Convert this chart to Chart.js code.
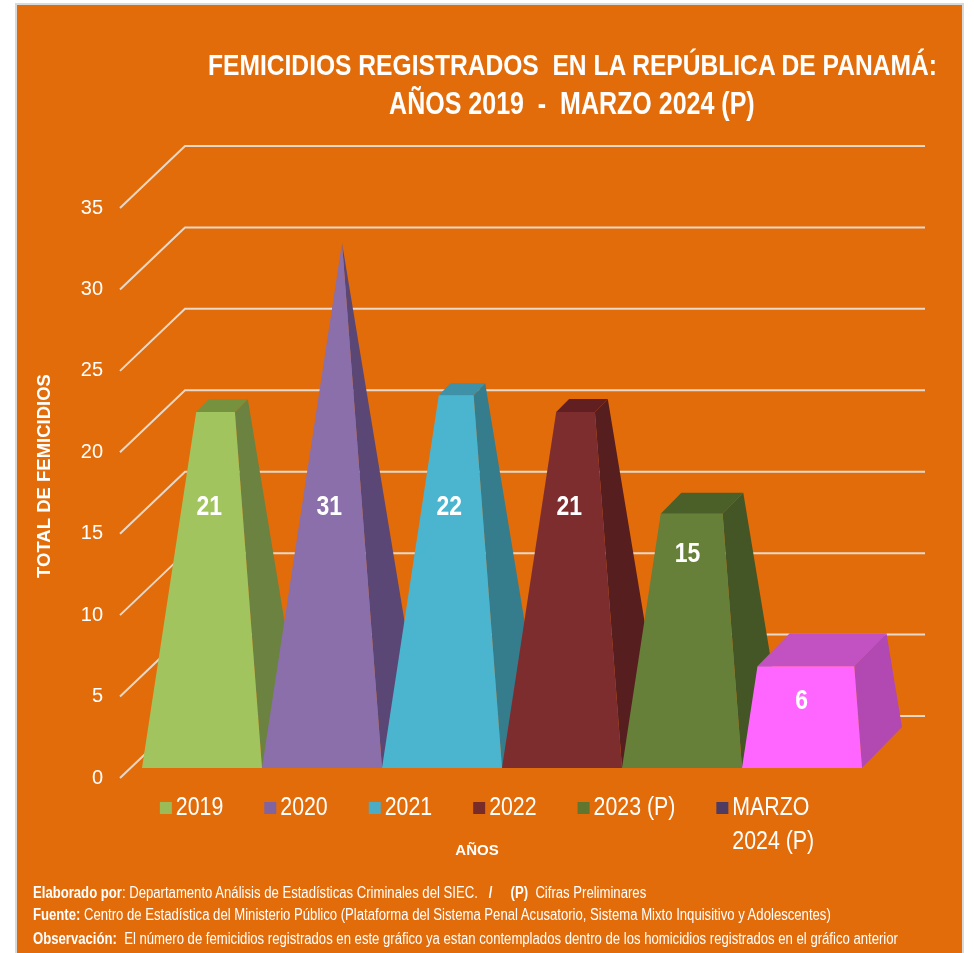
<!DOCTYPE html>
<html lang="es">
<head>
    <meta charset="UTF-8">
    <title>Femicidios registrados en la República de Panamá</title>
    <script src="https://cdn.jsdelivr.net/npm/chart.js"></script>
    <style>
        body {
            margin: 0;
            padding: 0;
            background: #fff;
            width: 974px;
            height: 953px;
            overflow: hidden;
            position: relative;
            font-family: 'Liberation Sans', Arial, sans-serif;
        }
        /* orange card behind the chart */
        #panel {
            position: absolute;
            left: 15px;
            top: 3px;
            width: 945px;
            height: 960px;
            background: #E36C0A;
            border: 2px solid #D9D9D9;
        }
        #femChart {
            position: absolute;
            left: 0;
            top: 0;
        }
        /* no narrow font installed, so squeeze Liberation Sans like Arial Narrow */
        .titulo {
            position: absolute;
            left: 72px;
            width: 1000px;
            text-align: center;
            color: #fff;
            font: bold 30px 'Liberation Sans', Arial, sans-serif;
            line-height: 38px;
            white-space: pre;
        }
        .titulo span {
            display: inline-block;
            transform: scaleX(0.82);
            transform-origin: center;
        }
        .nota {
            position: absolute;
            left: 33px;
            color: #fff;
            font: 16px 'Liberation Sans', Arial, sans-serif;
            line-height: 18px;
            white-space: pre;
            transform: scaleX(0.82);
            transform-origin: left;
        }
    </style>
</head>
<body>
    <div id="panel"></div>
    <canvas id="femChart" width="974" height="953"></canvas>

    <div class="titulo" style="top:46px"><span>FEMICIDIOS REGISTRADOS  EN LA REPÚBLICA DE PANAMÁ:</span></div>
    <div class="titulo" style="top:84px;font-size:30.5px"><span>AÑOS 2019  -  MARZO 2024 (P)</span></div>

    <div class="nota" style="top:884px"><b>Elaborado por</b>: Departamento Análisis de Estadísticas Criminales del SIEC.   <b>/     (P)</b>  Cifras Preliminares</div>
    <div class="nota" style="top:906px"><b>Fuente:</b> Centro de Estadística del Ministerio Público (Plataforma del Sistema Penal Acusatorio, Sistema Mixto Inquisitivo y Adolescentes)</div>
    <div class="nota" style="top:930px"><b>Observación:</b>  El número de femicidios registrados en este gráfico ya estan contemplados dentro de los homicidios registrados en el gráfico anterior</div>

    <script>
        // data
        const years = ['2019', '2020', '2021', '2022', '2023 (P)', ['MARZO', '2024 (P)']];
        const femicidios = [21, 31, 22, 21, 15, 6];
        const yTicks = [0, 5, 10, 15, 20, 25, 30, 35];

        // colours of the 3d shapes
        const frontColors = ['#A2C45E', '#8A6FAB', '#4BB5CF', '#7E2D2F', '#66803A', '#FF66FF'];
        const sideColors = ['#6C8240', '#5A4776', '#357D8D', '#561E1E', '#445626', '#B249B3'];
        const topColors = ['#77923F', '#6E5890', '#3E91A6', '#621F22', '#4B5F28', '#C252C2'];
        const legendColors = ['#9BBB59', '#8064A2', '#4BACC6', '#772C2A', '#5F7530', '#4D3B62'];

        const sans = "'Liberation Sans', Arial, sans-serif";
        const SQUEEZE = 0.82;             // Arial -> Arial Narrow
        const WALL = { x: 65, y: -62 };   // depth of the floor / back wall
        const BASE = { x: 40, y: -41 };   // depth of each pyramid base
        const LIFT = 10;                  // bars stand a bit behind the tick plane

        function narrowText(ctx, text, x, y) {
            ctx.save();
            ctx.translate(x, y);
            ctx.scale(SQUEEZE, 1);
            ctx.fillText(text, 0, 0);
            ctx.restore();
        }

        // draws the back wall, the pyramids, the labels and the legend
        const pyramids3d = {
            id: 'pyramids3d',
            beforeDatasetsDraw(chart) {
                const { ctx, chartArea, scales: { y } } = chart;
                ctx.save();
                ctx.strokeStyle = 'rgba(232, 222, 212, 0.95)';
                ctx.lineWidth = 2;
                yTicks.forEach(v => {
                    const py = y.getPixelForValue(v);
                    const x0 = chartArea.left - 22;
                    ctx.beginPath();
                    ctx.moveTo(x0, py);
                    ctx.lineTo(x0 + WALL.x, py + WALL.y);
                    ctx.lineTo(chartArea.right + WALL.x - 2, py + WALL.y);
                    ctx.stroke();
                });
                ctx.restore();
            },
            afterDatasetsDraw(chart) {
                const { ctx, scales: { y } } = chart;
                const meta = chart.getDatasetMeta(0);
                const maxVal = Math.max(...femicidios);
                ctx.save();
                meta.data.forEach((el, i) => {
                    const { x, y: top, base, width } = el.getProps(['x', 'y', 'base', 'width'], true);
                    const yb = base - LIFT;
                    const h = base - top;
                    const t = femicidios[i] / maxVal;
                    const s = 1 - t;
                    const x0 = x - width / 2, x1 = x + width / 2;
                    const hw = width / 2 * s;
                    const fy = yb - h + BASE.y * t / 2;
                    const ftL = [x - hw + BASE.x * t / 2, fy];
                    const ftR = [x + hw + BASE.x * t / 2, fy];
                    const btL = [ftL[0] + BASE.x * s, fy + BASE.y * s];
                    const btR = [ftR[0] + BASE.x * s, fy + BASE.y * s];

                    const poly = (pts, color) => {
                        ctx.beginPath();
                        ctx.moveTo(pts[0][0], pts[0][1]);
                        pts.slice(1).forEach(p => ctx.lineTo(p[0], p[1]));
                        ctx.closePath();
                        ctx.fillStyle = color;
                        ctx.fill();
                    };
                    // side, top, then front
                    poly([[x1, yb], [x1 + BASE.x, yb + BASE.y], btR, ftR], sideColors[i]);
                    if (s > 0) poly([ftL, ftR, btR, btL], topColors[i]);
                    poly([[x0, yb], [x1, yb], ftR, ftL], frontColors[i]);

                    // value label
                    const ly = Math.max(y.getPixelForValue(femicidios[i]) + 31, y.getPixelForValue(16)) - LIFT;
                    const lt = (yb - ly) / (h || 1) * t;
                    ctx.fillStyle = '#fff';
                    ctx.font = 'bold 28px ' + sans;
                    ctx.textAlign = 'center';
                    ctx.textBaseline = 'middle';
                    narrowText(ctx, String(femicidios[i]), x + BASE.x * lt / 2 - 3, ly);
                });
                ctx.restore();
            },
            afterDraw(chart) {
                const { ctx } = chart;
                ctx.save();
                // legend, one entry per category
                const box = 12, gap = 4, space = 41, ly = 808, lineH = 34;
                ctx.font = '26px ' + sans;
                const items = years.map((c, i) => {
                    const lines = Array.isArray(c) ? c : [c];
                    const w = Math.max(...lines.map(l => ctx.measureText(l).width)) * SQUEEZE;
                    return { lines, w: box + gap + w, color: legendColors[i] };
                });
                const total = items.reduce((a, it) => a + it.w, 0) + space * (items.length - 1);
                let lx = chart.width / 2 - total / 2;
                ctx.textBaseline = 'middle';
                ctx.textAlign = 'left';
                items.forEach(it => {
                    ctx.fillStyle = it.color;
                    ctx.fillRect(lx, ly - box / 2, box, box);
                    ctx.fillStyle = '#fff';
                    it.lines.forEach((l, k) => narrowText(ctx, l, lx + box + gap, ly + k * lineH));
                    lx += it.w + space;
                });

                // axis titles
                ctx.fillStyle = '#fff';
                ctx.textAlign = 'center';
                ctx.font = 'bold 15px ' + sans;
                ctx.fillText('AÑOS', chart.width / 2 - 10, 851);
                ctx.font = 'bold 18.5px ' + sans;
                ctx.translate(45, 476);
                ctx.rotate(-Math.PI / 2);
                ctx.fillText('TOTAL DE FEMICIDIOS', 0, 0);
                ctx.restore();
            }
        };

        const ctx = document.getElementById('femChart').getContext('2d');
        const femChart = new Chart(ctx, {
            type: 'bar',
            data: {
                labels: years,
                datasets: [{
                    label: 'Femicidios',
                    data: femicidios,
                    backgroundColor: 'rgba(0,0,0,0)',
                    borderWidth: 0,
                    categoryPercentage: 1,
                    barPercentage: 1
                }]
            },
            options: {
                responsive: false,
                animation: false,
                layout: { padding: { left: 30, right: 112, top: 208, bottom: 175 } },
                plugins: {
                    legend: { display: false },
                    tooltip: { enabled: false }
                },
                scales: {
                    x: { display: false },
                    y: {
                        min: 0,
                        max: 35,
                        afterFit: scale => { scale.width = 112; },
                        ticks: {
                            stepSize: 5,
                            padding: 39,
                            color: '#fff',
                            font: { family: sans, size: 20 }
                        },
                        grid: { display: false, drawTicks: false },
                        border: { display: false }
                    }
                }
            },
            plugins: [pyramids3d]
        });
    </script>
</body>
</html>
